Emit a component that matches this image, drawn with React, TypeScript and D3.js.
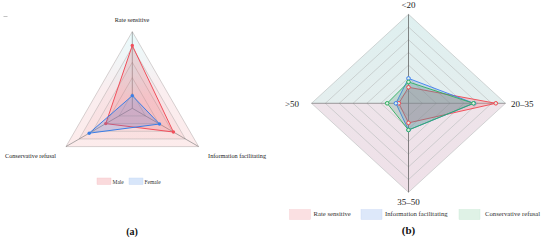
import React from "react";
import * as d3 from "d3";

const axesA = ["Rate sensitive", "Information facilitating", "Conservative refusal"];
const maleValues = [0.82, 0.62, 0.4];
const femaleValues = [0.165, 0.41, 0.65];
const legendA = ["Male", "Female"];

const axesB = ["<20", "20–35", "35–50", ">50"];
const rateValues = [0.18, 0.9, 0.22, 0.1];
const infoValues = [0.28, 0.675, 0.3, 0.13];
const consValues = [0.24, 0.67, 0.3, 0.22];
const legendB = ["Rate sensitive", "Information facilitating", "Conservative refusal"];

const FONT = "'Liberation Serif', 'Times New Roman', serif";

function polar(cx: number, cy: number, rx: number, ry: number, n: number) {
  return (i: number, v: number): [number, number] => {
    const a = -Math.PI / 2 + (2 * Math.PI * i) / n;
    return [cx + Math.cos(a) * rx * v, cy + Math.sin(a) * ry * v];
  };
}

function RadarA() {
  const cx = 132.3, cy = 108.3, R = 76.6;
  const n = axesA.length;
  const r = d3.scaleLinear().domain([0, 1]).range([0, 1]);
  const p = polar(cx, cy, R, R, n);
  const levels = d3.range(1, 6).map((k) => k / 5);
  const poly = (vals: number[]) =>
    d3.line()(vals.map((v, i) => p(i, r(v))) as [number, number][]) + "Z";
  const series = [
    { vals: maleValues, color: "#f0505c", fill: "rgba(240,90,100,0.2)" },
    { vals: femaleValues, color: "#3a7ee6", fill: "rgba(70,120,220,0.22)" },
  ];
  return (
    <g>
      <defs>
        <linearGradient id="gA" x1="0" y1="0" x2="0" y2="1">
          <stop offset="0" stopColor="#c8f6f8" />
          <stop offset="0.5" stopColor="#f4d6da" />
          <stop offset="1" stopColor="#f8d0d0" />
        </linearGradient>
      </defs>
      {levels
        .slice()
        .reverse()
        .map((l) => (
          <path key={"f" + l} d={poly(axesA.map(() => l))} fill="url(#gA)" opacity={0.42} />
        ))}
      {levels.map((l) => (
        <path key={"g" + l} d={poly(axesA.map(() => l))} fill="none" stroke="#bcb4b4" strokeWidth={0.6} />
      ))}
      {axesA.map((_, i) => {
        const [x, y] = p(i, 1);
        return <line key={i} x1={cx} y1={cy} x2={x} y2={y} stroke="#777" strokeWidth={0.6} />;
      })}
      {series.map((s, k) => (
        <g key={k}>
          <path d={poly(s.vals)} fill={s.fill} stroke={s.color} strokeWidth={1} />
          {s.vals.map((v, i) => {
            const [x, y] = p(i, r(v));
            return <circle key={i} cx={x} cy={y} r={1.7} fill={s.color} />;
          })}
        </g>
      ))}
      <text x={132} y={21.5} fontSize={6.2} textAnchor="middle" fontFamily={FONT} fill="#222">{axesA[0]}</text>
      <text x={266} y={158} fontSize={6.2} textAnchor="end" fontFamily={FONT} fill="#222">{axesA[1]}</text>
      <text x={5} y={158} fontSize={6.2} textAnchor="start" fontFamily={FONT} fill="#222">{axesA[2]}</text>
      {legendA.map((t, i) => {
        const x0 = 97 + i * 32;
        return (
          <g key={t}>
            <rect x={x0} y={178} width={14} height={6.5} fill={i === 0 ? "#fadadc" : "#d8e6fa"} stroke={i === 0 ? "#f4c4c8" : "#c4d6f2"} strokeWidth={0.4} />
            <text x={x0 + 15.5} y={183.5} fontSize={5.5} fontFamily={FONT} fill="#333">{t}</text>
          </g>
        );
      })}
      <text x={132} y={235} fontSize={10} textAnchor="middle" fontFamily={FONT} fontWeight="bold" fill="#111">(a)</text>
      <line x1={3.5} y1={16.5} x2={7.5} y2={16.5} stroke="#999" strokeWidth={0.6} />
    </g>
  );
}

function RadarB() {
  const cx = 408.5, cy = 103.3, rx = 97, ry = 89;
  const n = axesB.length;
  const r = d3.scaleLinear().domain([0, 1]).range([0, 1]);
  const p = polar(cx, cy, rx, ry, n);
  const levels = d3.range(1, 8).map((k) => k / 7);
  const poly = (vals: number[]) =>
    d3.line()(vals.map((v, i) => p(i, r(v))) as [number, number][]) + "Z";
  const series = [
    { vals: rateValues, color: "#f0444e", fill: "rgba(236,120,128,0.28)" },
    { vals: infoValues, color: "#3a7ff0", fill: "rgba(90,130,200,0.22)" },
    { vals: consValues, color: "#2eb05e", fill: "rgba(80,150,120,0.25)" },
  ];
  const [tx, ty] = p(0, 1);
  const [rx1, ry1] = p(1, 1);
  const [bx, by] = p(2, 1);
  const [lx, ly] = p(3, 1);
  return (
    <g>
      <defs>
        <linearGradient id="gB" x1="0" y1="0" x2="0" y2="1">
          <stop offset="0" stopColor="#dff0f0" />
          <stop offset="0.5" stopColor="#e4eeee" />
          <stop offset="0.5" stopColor="#eee4ea" />
          <stop offset="1" stopColor="#efe0e8" />
        </linearGradient>
      </defs>
      <path d={poly(axesB.map(() => 1))} fill="url(#gB)" />
      {levels.map((l) => (
        <path key={l} d={poly(axesB.map(() => l))} fill="none" stroke="#b8bcbc" strokeWidth={0.6} />
      ))}
      <line x1={tx} y1={ty} x2={bx} y2={by} stroke="#555" strokeWidth={0.7} />
      <line x1={lx} y1={ly} x2={rx1} y2={ry1} stroke="#777" strokeWidth={0.7} />
      {series.map((s, k) => (
        <path key={k} d={poly(s.vals)} fill={s.fill} stroke={s.color} strokeWidth={0.9} />
      ))}
      {series.map((s, k) => (
        <g key={"p" + k}>
          {s.vals.map((v, i) => {
            const [x, y] = p(i, r(v));
            return <circle key={i} cx={x} cy={y} r={1.8} fill="#dfeee6" stroke={s.color} strokeWidth={1} />;
          })}
        </g>
      ))}
      <text x={408.5} y={8} fontSize={9} textAnchor="middle" fontFamily={FONT} fill="#222">{axesB[0]}</text>
      <text x={511} y={106.5} fontSize={9} textAnchor="start" fontFamily={FONT} fill="#222">{axesB[1]}</text>
      <text x={408.5} y={204.5} fontSize={9} textAnchor="middle" fontFamily={FONT} fill="#222">{axesB[2]}</text>
      <text x={299} y={106.5} fontSize={9} textAnchor="end" fontFamily={FONT} fill="#222">{axesB[3]}</text>
      {legendB.map((t, i) => {
        const xs = [289.5, 361, 459];
        const fills = ["#fbe0e2", "#dde8fa", "#dff2e6"];
        const strokes = ["#f4cdd0", "#c8d8f4", "#c8e8d4"];
        return (
          <g key={t}>
            <rect x={xs[i]} y={209.5} width={21} height={10} fill={fills[i]} stroke={strokes[i]} strokeWidth={0.4} />
            <text x={xs[i] + (i === 2 ? 26 : 24)} y={215.5} fontSize={6.7} fontFamily={FONT} fill="#333">{t}</text>
          </g>
        );
      })}
      <text x={408.5} y={234} fontSize={11} textAnchor="middle" fontFamily={FONT} fontWeight="bold" fill="#111">(b)</text>
    </g>
  );
}

export default function App() {
  return (
    <svg width={550} height={242} style={{ position: "absolute", left: 0, top: 0, background: "#fff" }}>
      <rect width={550} height={242} fill="#fff" />
      <RadarA />
      <RadarB />
    </svg>
  );
}
